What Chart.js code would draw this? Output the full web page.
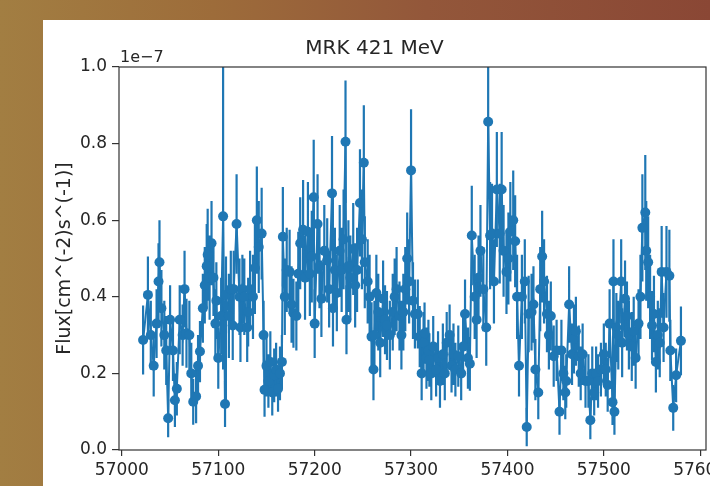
<!DOCTYPE html>
<html><head><meta charset="utf-8">
<script src="https://cdn.jsdelivr.net/npm/chart.js@4.4.0/dist/chart.umd.min.js"></script>
<style>
html,body{margin:0;padding:0;width:710px;height:486px;overflow:hidden;}
body{background:linear-gradient(90deg,#a27e42 0%,#9d6c3a 30%,#93573a 60%,#8a4735 100%);position:relative;}
#panel{position:absolute;left:43px;top:20px;width:667px;height:466px;background:#fff;}
canvas{display:block;}
</style></head><body>
<div id="panel"><canvas id="c" width="667" height="466"></canvas></div>
<script>
const titleText = 'MRK 421 MeV';
const yLabel = 'Flux[cm^(-2)s^(-1)]';
const offsetText = '1e\u22127';
const xTicks = [57000, 57100, 57200, 57300, 57400, 57500, 57600];
const yTicks = [0.0, 0.2, 0.4, 0.6, 0.8, 1.0];

const mjd = [
57022,57027,57030,57033,57036,57038,57039,57041,57044,57046,57048,57050,57053,57055,57057,57060,57063,57065,57067,57070,
57072,57074,57077,57079,57081,57084,57086,57088,57089,57091,57093,57095,57097,57098,57100,57103,57105,57107,57108,57111,
57113,57115,57116,57119,57122,57123,57125,57127,57130,57131,57133,57136,57138,57140,57142,57145,57147,57148,57150,57152,
57154,57156,57158,57160,57162,57164,57166,57167,57169,57171,57174,57176,57178,57181,57183,57185,57188,57190,57193,57195,
57197,57199,57200,57203,57205,57207,57210,57213,57215,57218,57219,57221,57223,57226,57228,57230,57232,57233,57235,57237,
57240,57242,57244,57247,57249,57251,57252,57255,57257,57259,57261,57262,57264,57266,57268,57271,57273,57275,57278,57281,
57283,57285,57288,57290,57292,57294,57296,57298,57300,57302,57304,57307,57309,57311,57313,57314,57316,57318,57319,57321,
57323,57326,57328,57330,57333,57335,57337,57340,57342,57344,57346,57349,57352,57354,57356,57359,57361,57363,57366,57368,
57370,57372,57375,57378,57380,57382,57384,57386,57389,57392,57394,57396,57399,57401,57403,57406,57408,57410,57412,57415,
57418,57420,57422,57425,57427,57429,57432,57434,57436,57438,57441,57443,57445,57448,57451,57454,57456,57458,57460,57461,
57464,57467,57469,57471,57474,57476,57478,57481,57484,57486,57488,57490,57492,57494,57497,57500,57502,57504,57506,57509,
57510,57511,57513,57515,57518,57519,57522,57524,57526,57529,57531,57533,57536,57538,57540,57543,57544,57546,57548,57550,
57552,57554,57556,57558,57560,57562,57565,57568,57569,57572,57575,57580
];
const flux = [
0.287,0.405,0.30,0.22,0.33,0.44,0.49,0.37,0.30,0.26,0.083,0.34,0.26,0.13,0.16,0.34,0.30,0.42,0.305,0.30,
0.20,0.126,0.14,0.22,0.257,0.37,0.43,0.48,0.51,0.45,0.54,0.45,0.33,0.39,0.24,0.35,0.61,0.12,0.405,0.35,
0.42,0.325,0.42,0.59,0.40,0.32,0.42,0.40,0.32,0.36,0.42,0.40,0.475,0.60,0.53,0.565,0.30,0.157,0.22,0.18,
0.23,0.15,0.195,0.21,0.16,0.20,0.23,0.557,0.40,0.47,0.465,0.38,0.357,0.35,0.46,0.54,0.575,0.45,0.57,0.46,
0.505,0.66,0.33,0.59,0.48,0.395,0.52,0.495,0.42,0.67,0.37,0.47,0.41,0.52,0.47,0.55,0.805,0.34,0.48,0.45,
0.525,0.43,0.47,0.645,0.55,0.75,0.49,0.44,0.40,0.296,0.21,0.30,0.41,0.36,0.28,0.395,0.34,0.325,0.30,0.36,
0.40,0.42,0.35,0.30,0.36,0.42,0.50,0.44,0.73,0.39,0.355,0.355,0.296,0.20,0.28,0.305,0.24,0.26,0.235,0.20,
0.27,0.21,0.24,0.18,0.25,0.20,0.28,0.30,0.22,0.25,0.21,0.245,0.20,0.27,0.355,0.24,0.225,0.56,0.40,0.34,
0.45,0.52,0.42,0.32,0.857,0.56,0.565,0.44,0.68,0.565,0.68,0.52,0.465,0.50,0.57,0.60,0.545,0.40,0.22,0.40,
0.44,0.06,0.355,0.36,0.38,0.21,0.15,0.42,0.505,0.44,0.355,0.30,0.35,0.245,0.26,0.10,0.26,0.20,0.15,0.18,
0.38,0.25,0.29,0.31,0.245,0.20,0.25,0.18,0.18,0.078,0.20,0.15,0.20,0.18,0.21,0.25,0.21,0.17,0.33,0.125,
0.44,0.10,0.32,0.30,0.44,0.28,0.395,0.35,0.30,0.27,0.31,0.24,0.33,0.40,0.58,0.62,0.52,0.49,0.40,0.325,
0.355,0.23,0.30,0.28,0.465,0.32,0.465,0.455,0.26,0.11,0.195,0.285
];
const fluxErr = [
0.09,0.10,0.09,0.08,0.09,0.10,0.11,0.10,0.09,0.09,0.05,0.09,0.08,0.07,0.07,0.09,0.08,0.10,0.09,0.09,
0.08,0.06,0.07,0.08,0.08,0.09,0.10,0.11,0.12,0.11,0.11,0.10,0.09,0.10,0.08,0.10,0.40,0.06,0.10,0.11,
0.10,0.09,0.10,0.13,0.10,0.09,0.09,0.10,0.09,0.09,0.10,0.11,0.12,0.14,0.12,0.12,0.09,0.07,0.08,0.07,
0.08,0.06,0.07,0.07,0.06,0.07,0.07,0.13,0.10,0.11,0.11,0.10,0.09,0.09,0.11,0.12,0.13,0.11,0.13,0.11,
0.12,0.15,0.09,0.13,0.11,0.10,0.12,0.11,0.10,0.15,0.10,0.11,0.10,0.12,0.11,0.13,0.16,0.09,0.12,0.11,
0.12,0.11,0.11,0.14,0.13,0.15,0.12,0.11,0.11,0.09,0.08,0.09,0.10,0.10,0.09,0.10,0.09,0.09,0.09,0.10,
0.10,0.11,0.09,0.09,0.10,0.11,0.12,0.11,0.16,0.10,0.09,0.09,0.08,0.07,0.08,0.08,0.08,0.08,0.07,0.07,
0.08,0.07,0.07,0.07,0.08,0.07,0.08,0.08,0.07,0.08,0.07,0.08,0.07,0.08,0.09,0.08,0.07,0.13,0.11,0.10,
0.11,0.12,0.11,0.10,0.16,0.14,0.13,0.11,0.15,0.13,0.15,0.12,0.11,0.12,0.13,0.13,0.12,0.11,0.08,0.11,
0.11,0.05,0.10,0.10,0.10,0.08,0.07,0.11,0.12,0.11,0.10,0.09,0.09,0.08,0.08,0.06,0.08,0.07,0.07,0.07,
0.10,0.08,0.09,0.09,0.08,0.07,0.08,0.07,0.07,0.05,0.07,0.06,0.07,0.07,0.07,0.08,0.07,0.07,0.09,0.06,
0.11,0.06,0.09,0.09,0.11,0.09,0.10,0.09,0.09,0.09,0.09,0.08,0.09,0.11,0.14,0.15,0.13,0.12,0.11,0.09,
0.10,0.08,0.09,0.09,0.12,0.09,0.12,0.12,0.08,0.06,0.07,0.09
];

const BLUE = '#1f77b4';
const INK = '#262626';
Chart.defaults.font.family = "'DejaVu Sans', sans-serif";
Chart.defaults.color = INK;

const errorBars = {
  id: 'errorBars',
  beforeDatasetsDraw(chart) {
    const {ctx, chartArea: a, scales: {x, y}} = chart;
    ctx.save();
    ctx.beginPath();
    ctx.rect(a.left, a.top, a.right - a.left, a.bottom - a.top);
    ctx.clip();
    ctx.strokeStyle = BLUE;
    ctx.lineWidth = 2.2;
    ctx.beginPath();
    for (let i = 0; i < mjd.length; i++) {
      const px = x.getPixelForValue(mjd[i]);
      ctx.moveTo(px, y.getPixelForValue(flux[i] - fluxErr[i]));
      ctx.lineTo(px, y.getPixelForValue(flux[i] + fluxErr[i]));
    }
    ctx.stroke();
    ctx.restore();
  }
};
const frame = {
  id: 'frame',
  afterDraw(chart) {
    const {ctx, chartArea: a} = chart;
    ctx.save();
    ctx.strokeStyle = '#333';
    ctx.lineWidth = 1.2;
    ctx.strokeRect(a.left, a.top, a.right - a.left, a.bottom - a.top);
    ctx.fillStyle = INK;
    ctx.font = "16px 'DejaVu Sans'";
    ctx.textAlign = 'left';
    ctx.textBaseline = 'alphabetic';
    ctx.fillText(offsetText, a.left + 1, a.top - 5);
    ctx.restore();
  }
};

new Chart(document.getElementById('c'), {
  type: 'scatter',
  data: {
    datasets: [{
      data: mjd.map((v, i) => ({x: v, y: flux[i]})),
      showLine: true,
      borderColor: BLUE,
      borderWidth: 2,
      pointRadius: 5,
      pointBackgroundColor: BLUE,
      pointBorderWidth: 0,
      pointHoverRadius: 5
    }]
  },
  options: {
    responsive: false,
    animation: false,
    layout: {autoPadding: false, padding: {left: 0, right: 4, top: 0, bottom: 0}},
    plugins: {
      legend: {display: false},
      tooltip: {enabled: false},
      title: {display: true, text: titleText, color: INK,
        font: {size: 20, weight: 'normal'}, padding: {top: 17, bottom: 6}}
    },
    scales: {
      x: {
        type: 'linear', min: 56997, max: 57606,
        afterBuildTicks: s => { s.ticks = xTicks.map(v => ({value: v})); },
        afterFit: s => { s.height = 36; s.paddingLeft = 0; s.paddingRight = 0; },
        border: {display: false},
        grid: {display: true, drawOnChartArea: false, drawTicks: true, tickLength: 6, color: '#333', lineWidth: 1.2},
        ticks: {color: INK, font: {size: 17}, padding: 4, maxRotation: 0, autoSkip: false, callback: v => String(v)}
      },
      y: {
        type: 'linear', min: 0, max: 1.0,
        afterBuildTicks: s => { s.ticks = yTicks.map(v => ({value: v})); },
        afterFit: s => { s.width = 76; s.paddingTop = 0; s.paddingBottom = 0; },
        border: {display: false},
        grid: {display: true, drawOnChartArea: false, drawTicks: true, tickLength: 7, color: '#333', lineWidth: 1.2},
        ticks: {color: INK, font: {size: 17}, padding: 5, autoSkip: false, callback: v => Number(v).toFixed(1)},
        title: {display: true, text: yLabel, color: INK, font: {size: 19}, padding: {top: 11, bottom: 0}}
      }
    }
  },
  plugins: [errorBars, frame]
});
</script>
</body></html>
